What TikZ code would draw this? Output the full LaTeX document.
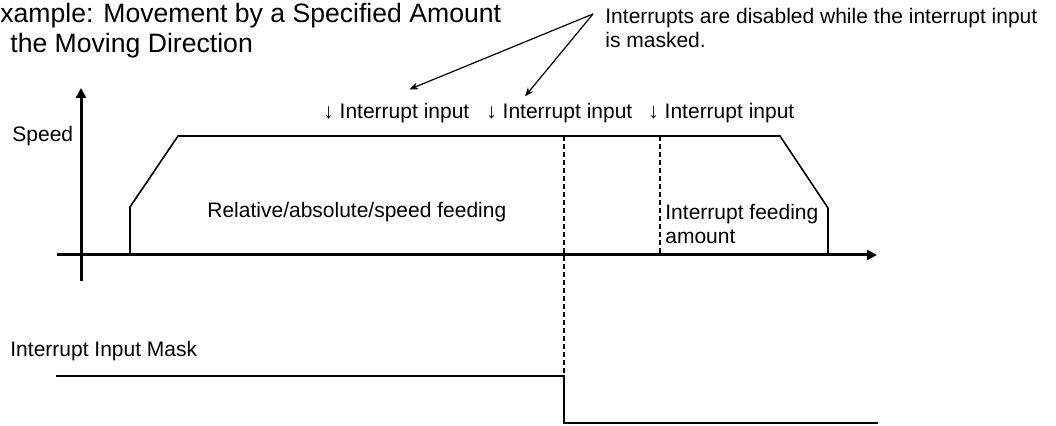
\documentclass[tikz,border=0pt]{standalone}
\usepackage{fontspec}
\setmainfont{Liberation Sans}
\usetikzlibrary{arrows.meta}

\tikzset{
    lbl/.style={inner sep=0pt, font=\fontsize{10.5}{12}\selectfont},
    ttl/.style={inner sep=0pt, font=\fontsize{13.3}{15}\selectfont},
    axis/.style={line width=1.5pt, -{Triangle[length=5pt,width=5pt]}},
    curve/.style={line width=0.8pt},
    guide/.style={line width=0.8pt, dash pattern=on 2.5pt off 1.5pt},
    pointer/.style={line width=0.6pt, -{Stealth[length=4.5pt,width=3.5pt]}}
}

\begin{document}
\begin{tikzpicture}[x=0.5pt, y=-0.5pt]
    \useasboundingbox (0,0) rectangle (1056,426);

    % Title
    \node[ttl, anchor=base west] (title1) at (0,23) {xample: Movement by a Specified Amount};
    \node[ttl, anchor=base west] (title2) at (10,53) {the Moving Direction};

    % Axes
    \draw[axis] (57,255) -- (877,255);
    \draw[axis] (81,281) -- (81,88);
    \node[lbl, anchor=base west] (speed) at (12,142) {Speed};

    % Speed profile
    \draw[curve] (130,255) -- (130,207) -- (178,136) -- (780,136) -- (828,208) -- (828,255);
    \node[lbl, anchor=base west] (feed) at (207,218) {Relative/absolute/speed feeding};
    \node[lbl, anchor=north west, align=left] (amount) at (665,204) {Interrupt feeding\\amount};

    % Interrupt inputs
    \foreach \x [count=\i] in {323,486,648}
        \node[lbl, anchor=base west] (in\i) at (\x,119) {↓ Interrupt input};

    % Dashed guides
    \draw[guide] (564,136) -- (564,376);
    \draw[guide] (660,136) -- (660,255);

    % Note on masked inputs
    \node[lbl, anchor=north west, align=left] (note) at (605,8)
        {Interrupts are disabled while the interrupt input\\is masked.};
    \coordinate (fork) at (593,14);
    \draw[pointer] (fork) -- ([shift={(13,-14)}]in1.north);
    \draw[pointer] (fork) -- ([shift={(39,-7)}]in2.north west);

    % Interrupt input mask
    \node[lbl, anchor=base west] (mask) at (10,357) {Interrupt Input Mask};
    \draw[curve] (56,376) -- (564,376) -- (564,423) -- (878,423);

\end{tikzpicture}
\end{document}
